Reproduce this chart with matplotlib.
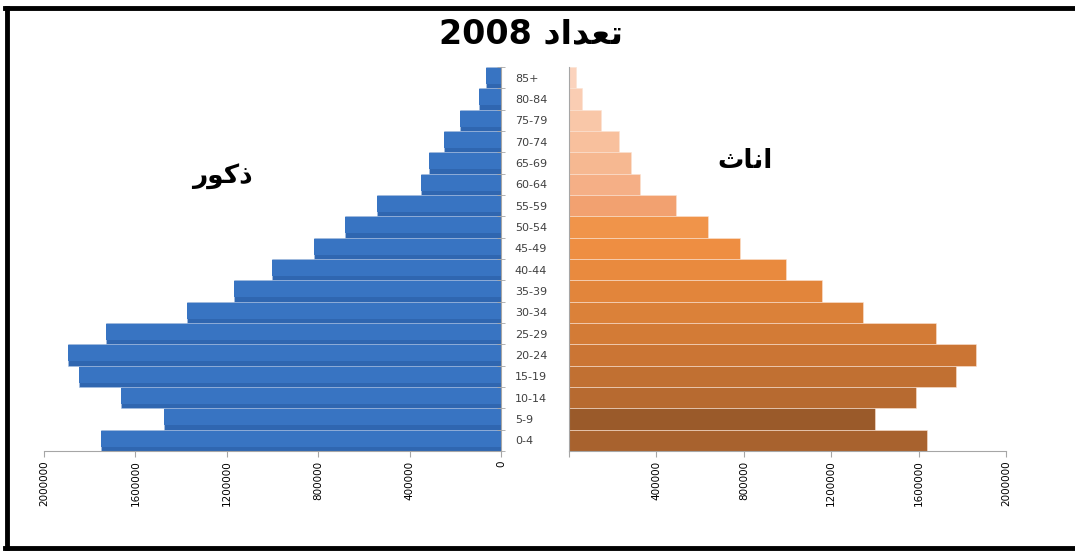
import matplotlib.pyplot as plt
import numpy as np
from matplotlib.lines import Line2D

plt.rcParams['font.family'] = ['DejaVu Sans']

# age groups, top to bottom as in the picture
age_groups = ['85+', '80-84', '75-79', '70-74', '65-69', '60-64', '55-59', '50-54',
              '45-49', '40-44', '35-39', '30-34', '25-29', '20-24', '15-19',
              '10-14', '5-9', '0-4']
males = [65000, 96000, 179000, 249000, 315000, 350000, 543000, 683000, 818000,
         1002000, 1168000, 1374000, 1729000, 1895000, 1847000, 1663000, 1475000, 1750000]
females = [32000, 60000, 147000, 229000, 284000, 325000, 490000, 636000, 783000,
           993000, 1158000, 1345000, 1680000, 1863000, 1771000, 1588000, 1400000, 1638000]
x_ticks = [0, 400000, 800000, 1200000, 1600000, 2000000]

female_colors = ['#fbd3bd', '#facdb3', '#f9c7a8', '#f8c09d', '#f6b891', '#f5af86',
                 '#f2a170', '#f0944a', '#ee8e42', '#e98a3e', '#e2853b', '#db8139',
                 '#d37b36', '#cb7534', '#c17032', '#b76a30', '#9a5a2a', '#a8622e']

# arabic words as presentation forms in visual order (no shaping in matplotlib)
title_ar = '\uFEA9\uFE8D\uFEAA\uFECC\uFE97'   # تعداد
male_ar = '\uFEAD\uFEEE\uFEDB\uFEAB'          # ذكور
female_ar = '\uFE99\uFE8E\uFEE7\uFE8D'        # اناث

W, H = 1075, 553
fig = plt.figure(figsize=(W / 100, H / 100), dpi=100)
fig.patch.set_facecolor('white')

y = np.arange(len(age_groups))[::-1]  # 0-4 at bottom
axis_gray = '#a6a6a6'


def px_axes(x0, x1, y0, y1):
    return fig.add_axes([x0 / W, 1 - y1 / H, (x1 - x0) / W, (y1 - y0) / H])


# males: two layers for the soft shading of the bars
axm = px_axes(44, 501, 67, 451)
axm.barh(y, males, height=1.0, color='#2f66b0', edgecolor='#a9c1e3', linewidth=0.4)
axm.barh(y + 0.08, males, height=0.74, color='#3874c2', linewidth=0)
axm.set_xlim(2000000, 0)
axm.set_ylim(-0.5, len(age_groups) - 0.5)
axm.set_xticks(x_ticks)
axm.set_xticklabels([str(v) for v in x_ticks], rotation=90, fontsize=7.5, va='top')
axm.yaxis.tick_right()
axm.set_yticks(y)
axm.set_yticklabels(age_groups, fontsize=8, color='#404040', ha='left')
axm.tick_params(axis='y', length=0, pad=10)
axm.set_yticks(np.arange(-0.5, len(age_groups), 1), minor=True)
axm.tick_params(axis='y', which='minor', length=6, direction='inout', color=axis_gray, right=True)
axm.tick_params(axis='x', length=4, color=axis_gray, pad=3)
for s in ['top', 'left']:
    axm.spines[s].set_visible(False)
axm.spines['right'].set_color(axis_gray)
axm.spines['bottom'].set_color(axis_gray)
axm.set_facecolor('none')

# females
axf = px_axes(569, 1006, 67, 451)
axf.barh(y, females, height=1.0, color=female_colors, edgecolor='#fbe3d3', linewidth=0.4)
axf.set_xlim(0, 2000000)
axf.set_ylim(-0.5, len(age_groups) - 0.5)
axf.set_xticks(x_ticks)
axf.set_xticklabels(['' if v == 0 else str(v) for v in x_ticks], rotation=90, fontsize=7.5, va='top')
axf.set_yticks([])
axf.tick_params(axis='x', length=4, color=axis_gray, pad=3)
for s in ['top', 'right']:
    axf.spines[s].set_visible(False)
axf.spines['left'].set_color(axis_gray)
axf.spines['bottom'].set_color(axis_gray)
axf.set_facecolor('none')

# texts
fig.text(531 / W, 1 - 34 / H, '2008 ' + title_ar, ha='center', va='center',
         fontsize=24, fontweight='bold')
fig.text(222 / W, 1 - 176 / H, male_ar, ha='center', va='center', fontsize=19, fontweight='bold')
fig.text(745 / W, 1 - 161 / H, female_ar, ha='center', va='center', fontsize=19, fontweight='bold')

# frame around the picture (top, left, bottom)
fig.add_artist(Line2D([5 / W, 1], [1 - 8 / H, 1 - 8 / H], color='black', lw=3.5))
fig.add_artist(Line2D([7 / W, 7 / W], [1 - 8 / H, 1 - 548 / H], color='black', lw=3.5))
fig.add_artist(Line2D([5 / W, 1], [1 - 548 / H, 1 - 548 / H], color='black', lw=3.5))

fig.savefig('out.png', dpi=100)
